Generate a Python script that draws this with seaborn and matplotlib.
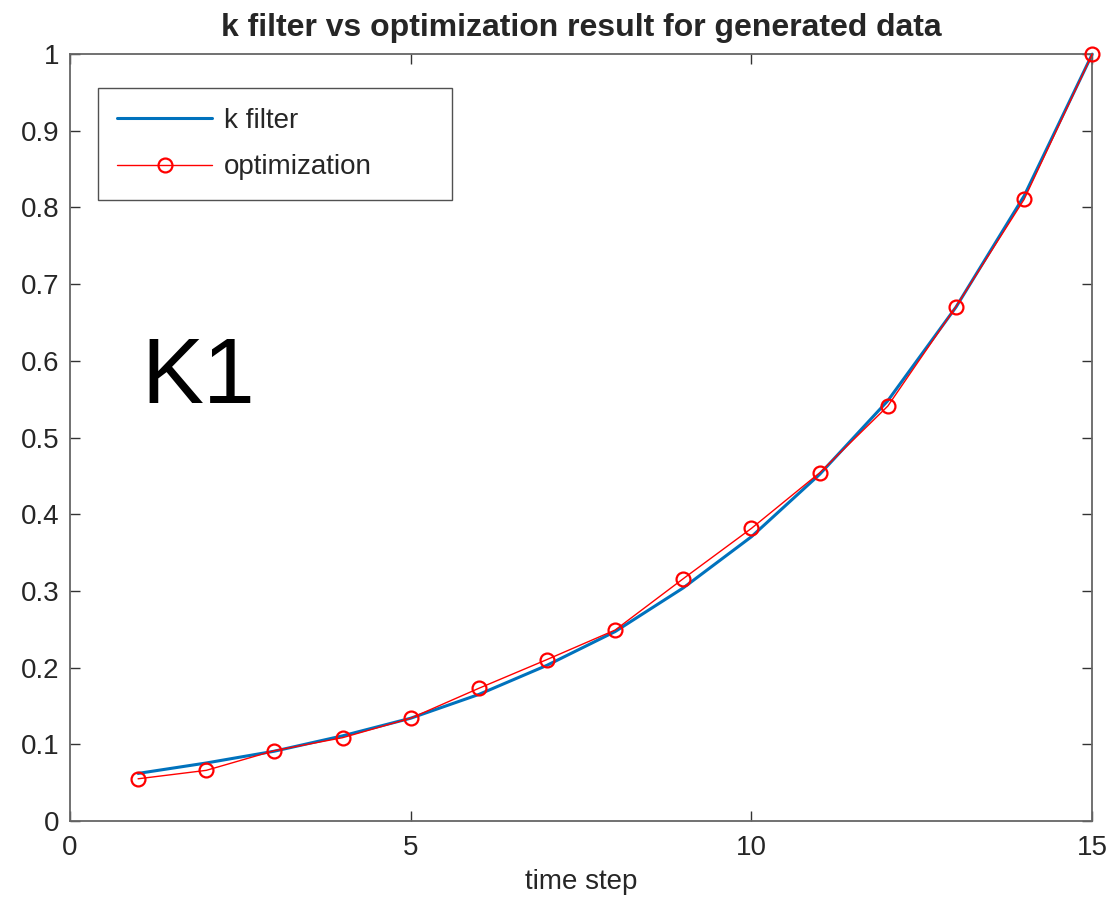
import matplotlib
matplotlib.use("Agg")
import matplotlib.pyplot as plt
import seaborn as sns
import pandas as pd

time_step = list(range(1, 16))
k_filter = [0.062, 0.0756, 0.091, 0.111, 0.134, 0.165, 0.203, 0.247, 0.304, 0.3707,
            0.452, 0.548, 0.670, 0.815, 1.0]
optimization = [0.055, 0.066, 0.0917, 0.1086, 0.134, 0.173, 0.2105, 0.249, 0.316, 0.3816,
                0.454, 0.541, 0.6706, 0.8105, 1.0]
x_ticks = [0, 5, 10, 15]
x_tick_labels = ["0", "5", "10", "15"]
y_ticks = [0, 0.1, 0.2, 0.3, 0.4, 0.5, 0.6, 0.7, 0.8, 0.9, 1.0]
y_tick_labels = ["0", "0.1", "0.2", "0.3", "0.4", "0.5", "0.6", "0.7", "0.8", "0.9", "1"]

sns.set_style("white")
plt.rcParams['font.family'] = ['Liberation Sans', 'DejaVu Sans']

fig = plt.figure(figsize=(11.1, 8.99), dpi=100)
ax = fig.add_axes([0.063, 0.0868, 0.921, 0.853])

df_k = pd.DataFrame({"time step": time_step, "value": k_filter})
df_o = pd.DataFrame({"time step": time_step, "value": optimization})

sns.lineplot(data=df_k, x="time step", y="value", ax=ax, color="#0072BD",
             linewidth=2.2, label="k filter", clip_on=False)
sns.lineplot(data=df_o, x="time step", y="value", ax=ax, color="#FF0000",
             linewidth=1.0, marker="o", markersize=10, markerfacecolor="none",
             markeredgecolor="#FF0000", markeredgewidth=1.6, label="optimization",
             clip_on=False, zorder=5)

ax.set_xlim(0, 15)
ax.set_ylim(0, 1)
ax.set_xticks(x_ticks)
ax.set_xticklabels(x_tick_labels)
ax.set_yticks(y_ticks)
ax.set_yticklabels(y_tick_labels)
ax.tick_params(direction="in", length=7.5, width=1.0, color="#333333",
               labelsize=20, labelcolor="#262626", top=True, right=True,
               bottom=True, left=True)
ax.tick_params(axis="x", pad=10)
ax.tick_params(axis="y", pad=7.5)
for s in ax.spines.values():
    s.set_visible(True)
    s.set_color("#666666")
    s.set_linewidth(1.3)

ax.set_xlabel("time step", fontsize=20, color="#262626", labelpad=6)
ax.set_ylabel("")
ax.set_title("k filter vs optimization result for generated data",
             fontsize=23, fontweight="bold", pad=13)

ax.text(0.07, 0.545, "K1", transform=ax.transAxes, fontsize=67,
        color="black", ha="left", va="baseline")

leg = ax.legend(loc="upper left", bbox_to_anchor=(0.0274, 0.9557, 0.3464, 0.0), mode="expand",
                fontsize=20, frameon=True, fancybox=False, edgecolor="#262626",
                handlelength=3.4, borderpad=0.7, labelspacing=0.75,
                handletextpad=0.45, borderaxespad=0)
leg.get_frame().set_linewidth(1.0)
leg.set_zorder(10)

fig.savefig("out.png", dpi=100)
